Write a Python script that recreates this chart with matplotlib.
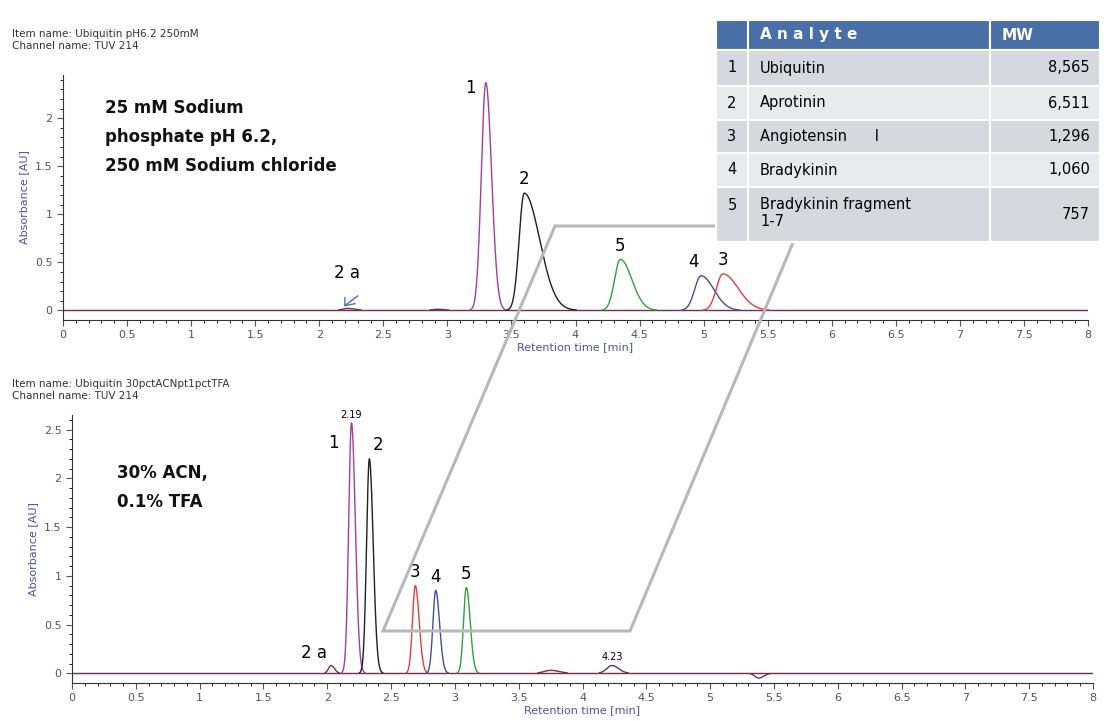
import numpy as np
import matplotlib.pyplot as plt
from matplotlib.patches import Rectangle, Polygon

# ---- data ----
peak_labels = ["1", "2", "3", "4", "5"]
peak_colors = ["#a0409a", "#202020", "#e04040", "#4050a0", "#30a040"]
top_pos = [3.30, 3.60, 5.15, 4.98, 4.35]
top_hgt = [2.37, 1.22, 0.38, 0.36, 0.53]
top_sl = [0.035, 0.04, 0.05, 0.05, 0.045]
top_sr = [0.045, 0.12, 0.12, 0.10, 0.09]
bot_pos = [2.19, 2.33, 2.69, 2.85, 3.09]
bot_hgt = [2.57, 2.20, 0.90, 0.85, 0.88]
bot_sl = [0.022, 0.022, 0.022, 0.022, 0.022]
bot_sr = [0.03, 0.03, 0.03, 0.03, 0.03]
top_minor_pos = [2.22, 2.92]
top_minor_hgt = [0.02, 0.012]
bot_minor_pos = [2.03, 3.75, 4.23, 5.38]
bot_minor_hgt = [0.08, 0.03, 0.08, -0.05]
bot_minor_w = [0.02, 0.05, 0.04, 0.03]
table_num = ["1", "2", "3", "4", "5"]
table_name = ["Ubiquitin", "Aprotinin", "Angiotensin      I", "Bradykinin", "Bradykinin fragment\n1-7"]
table_mw = ["8,565", "6,511", "1,296", "1,060", "757"]

def peak(x, c, h, sl, sr):
    s = np.where(x < c, sl, sr)
    y = h * np.exp(-0.5 * ((x - c) / s) ** 2)
    return np.where(np.abs(y) > 0.004, y, np.nan)

fig = plt.figure(figsize=(11.08, 7.21), dpi=100)
W, H = 1108, 721
def ax_rect(l, r, t, b):
    return [l / W, 1 - b / H, (r - l) / W, (b - t) / H]

x = np.linspace(0, 8, 4000)
tick_c = "#555555"

def style(ax, ymax, yt):
    ax.set_xlim(0, 8)
    ax.set_xticks(np.arange(0, 8.01, 0.5))
    ax.set_xticklabels([("%g" % v) for v in np.arange(0, 8.01, 0.5)])
    ax.set_xticks(np.arange(0, 8.01, 0.1), minor=True)
    ax.set_yticks(yt)
    ax.set_yticklabels([("%g" % v) for v in yt])
    ax.set_yticks(np.arange(0, ymax, 0.1), minor=True)
    for s in ["top", "right"]:
        ax.spines[s].set_visible(False)
    for s in ["left", "bottom"]:
        ax.spines[s].set_color("#333333")
    ax.tick_params(labelsize=8, colors=tick_c, length=4)
    ax.tick_params(which="minor", length=2)
    ax.set_ylabel("Absorbance [AU]", fontsize=8, color="#5050a0")
    ax.set_xlabel("Retention time [min]", fontsize=8, color="#5050a0", labelpad=1)

# top
ax1 = fig.add_axes(ax_rect(63, 1088, 75, 320))
ax1.set_ylim(-0.1, 2.45)
ax1.axhline(0, color="#703050", lw=1)
for p, h in zip(top_minor_pos, top_minor_hgt):
    ax1.plot(x, peak(x, p, h, 0.04, 0.06), color="#703050", lw=1)
for i in range(5):
    ax1.plot(x, peak(x, top_pos[i], top_hgt[i], top_sl[i], top_sr[i]), color=peak_colors[i], lw=1)
    dx = -0.12 if i == 0 else (-0.06 if i == 3 else 0)
    dy = -0.15 if i == 0 else 0.05
    ax1.text(top_pos[i] + dx, top_hgt[i] + dy, peak_labels[i], fontsize=12, ha="center", va="bottom")
ax1.text(2.22, 0.3, "2 a", fontsize=12, ha="center", va="bottom")
ax1.plot([2.2, 2.2, 2.28], [0.13, 0.05, 0.07], color="#5070b0", lw=1)
ax1.plot([2.2, 2.3], [0.05, 0.15], color="#5070b0", lw=1)
ax1.text(0.33, 2.2, "25 mM Sodium\nphosphate pH 6.2,\n250 mM Sodium chloride", fontsize=12,
         fontweight="bold", va="top", linespacing=1.8, color="#111111")
style(ax1, 2.45, [0, 0.5, 1, 1.5, 2])
fig.text(12 / W, 1 - 40 / H, "Item name: Ubiquitin pH6.2 250mM\nChannel name: TUV 214", fontsize=7.5,
         va="center", color="#333333")

# bottom
ax2 = fig.add_axes(ax_rect(72, 1093, 415, 683))
ax2.set_ylim(-0.1, 2.65)
ax2.axhline(0, color="#703050", lw=1)
for p, h, w in zip(bot_minor_pos, bot_minor_hgt, bot_minor_w):
    ax2.plot(x, peak(x, p, h, w, w * 1.3), color="#703050", lw=1)
for i in range(5):
    ax2.plot(x, peak(x, bot_pos[i], bot_hgt[i], bot_sl[i], bot_sr[i]), color=peak_colors[i], lw=1)
    dx = -0.14 if i == 0 else (0.07 if i == 1 else 0)
    ax2.text(bot_pos[i] + dx, bot_hgt[i] + (-0.3 if i == 0 else 0.05), peak_labels[i], fontsize=12,
             ha="center", va="bottom")
ax2.text(2.19, 2.6, "2.19", fontsize=7, ha="center", va="bottom")
ax2.text(4.23, 0.12, "4.23", fontsize=7, ha="center", va="bottom")
ax2.text(1.9, 0.12, "2 a", fontsize=12, ha="center", va="bottom")
ax2.text(0.35, 2.15, "30% ACN,\n0.1% TFA", fontsize=12, fontweight="bold", va="top", linespacing=1.8,
         color="#111111")
style(ax2, 2.65, [0, 0.5, 1, 1.5, 2, 2.5])
fig.text(12 / W, 1 - 390 / H, "Item name: Ubiquitin 30pctACNpt1pctTFA\nChannel name: TUV 214", fontsize=7.5,
         va="center", color="#333333")

# overlay
ov = fig.add_axes([0, 0, 1, 1], facecolor="none")
ov.set_xlim(0, W); ov.set_ylim(H, 0); ov.axis("off")
ov.add_patch(Polygon([(555, 226), (800, 226), (630, 631), (383, 631)], closed=True, fill=False,
                     ec="#b8b8b8", lw=2.2))
cols = [716, 748, 990, 1100]
rows = [20, 50, 86, 120, 153, 187, 242]
for r in range(6):
    for c in range(3):
        fc = "#4a6ea6" if r == 0 else ("#d5d9df" if r % 2 == 1 else "#e8eaee")
        ov.add_patch(Rectangle((cols[c], rows[r]), cols[c + 1] - cols[c], rows[r + 1] - rows[r],
                               fc=fc, ec="white", lw=1.5))
ov.text(760, 35, "A n a l y t e", color="white", fontsize=11, va="center", fontweight="bold")
ov.text(1002, 35, "MW", color="white", fontsize=11, va="center", fontweight="bold")
for i in range(5):
    yc = (rows[i + 1] + rows[i + 2]) / 2
    ov.text(732, yc if i < 4 else 206, table_num[i], fontsize=10.5, ha="center", va="center")
    ov.text(760, yc if i < 4 else 213, table_name[i], fontsize=10.5, va="center")
    ov.text(1090, yc, table_mw[i], fontsize=10.5, ha="right", va="center")

fig.savefig("out.png", dpi=100)
